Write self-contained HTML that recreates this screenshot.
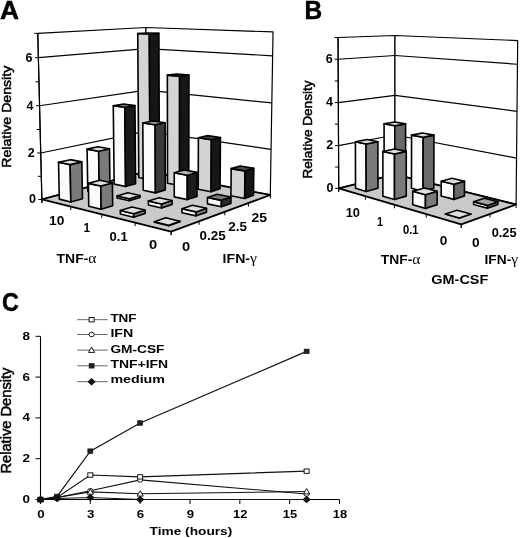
<!DOCTYPE html>
<html><head><meta charset="utf-8"><style>html,body{margin:0;padding:0;background:#fff;}svg{display:block;filter:grayscale(1);}</style></head>
<body><svg width="520" height="538" viewBox="0 0 520 538"><polygon points="41.88,199.44 146.72,171.45 145.91,27.52 37.77,33.36" fill="#fff" stroke="#000" stroke-width="1.20" stroke-linejoin="round" />
<polygon points="146.72,171.45 270.29,194.98 273.02,31.92 145.91,27.52" fill="#fff" stroke="#000" stroke-width="1.20" stroke-linejoin="round" />
<line x1="40.73" y1="152.99" x2="146.49" y2="131.08" stroke="#000" stroke-width="1.20"/>
<line x1="146.49" y1="131.08" x2="271.05" y2="149.35" stroke="#000" stroke-width="1.20"/>
<line x1="39.56" y1="105.75" x2="146.26" y2="90.11" stroke="#000" stroke-width="1.20"/>
<line x1="146.26" y1="90.11" x2="271.83" y2="102.97" stroke="#000" stroke-width="1.20"/>
<line x1="38.38" y1="57.70" x2="146.03" y2="48.54" stroke="#000" stroke-width="1.20"/>
<line x1="146.03" y1="48.54" x2="272.62" y2="55.80" stroke="#000" stroke-width="1.20"/>
<polygon points="41.88,199.44 171.10,231.60 270.29,194.98 146.72,171.45" fill="#cacaca" stroke="#000" stroke-width="1.80" stroke-linejoin="round" />
<polygon points="138.76,177.44 150.06,179.69 149.32,34.01 137.73,33.53" fill="#d4d4d4" stroke="#000" stroke-width="1.60" stroke-linejoin="round" />
<polygon points="150.06,179.69 159.38,177.07 158.89,33.40 149.32,34.01" fill="#161616" stroke="#000" stroke-width="1.60" stroke-linejoin="round" />
<polygon points="137.73,33.53 149.32,34.01 158.89,33.40 147.35,32.93" fill="#484848" stroke="#000" stroke-width="1.60" stroke-linejoin="round" />
<polygon points="114.18,184.14 125.58,186.56 124.82,107.20 113.27,105.77" fill="#fbfbfb" stroke="#000" stroke-width="1.60" stroke-linejoin="round" />
<polygon points="125.58,186.56 135.58,183.75 134.98,105.51 124.82,107.20" fill="#1a1a1a" stroke="#000" stroke-width="1.60" stroke-linejoin="round" />
<polygon points="113.27,105.77 124.82,107.20 134.98,105.51 123.46,104.13" fill="#9a9a9a" stroke="#000" stroke-width="1.60" stroke-linejoin="round" />
<polygon points="167.55,183.16 179.58,185.55 179.61,76.18 167.34,75.15" fill="#d4d4d4" stroke="#000" stroke-width="1.60" stroke-linejoin="round" />
<polygon points="179.58,185.55 188.77,182.77 188.97,74.94 179.61,76.18" fill="#161616" stroke="#000" stroke-width="1.60" stroke-linejoin="round" />
<polygon points="167.34,75.15 179.61,76.18 188.97,74.94 176.77,73.94" fill="#484848" stroke="#000" stroke-width="1.60" stroke-linejoin="round" />
<polygon points="87.77,191.34 99.25,193.94 98.64,151.17 87.08,149.11" fill="#fbfbfb" stroke="#000" stroke-width="1.60" stroke-linejoin="round" />
<polygon points="99.25,193.94 110.02,190.92 109.49,148.77 98.64,151.17" fill="#7a7a7a" stroke="#000" stroke-width="1.60" stroke-linejoin="round" />
<polygon points="87.08,149.11 98.64,151.17 109.49,148.77 97.96,146.77" fill="#dedede" stroke="#000" stroke-width="1.60" stroke-linejoin="round" />
<polygon points="143.24,190.29 155.40,192.86 155.12,124.73 142.81,123.03" fill="#fbfbfb" stroke="#000" stroke-width="1.60" stroke-linejoin="round" />
<polygon points="155.40,192.86 165.29,189.87 165.13,122.72 155.12,124.73" fill="#3a3a3a" stroke="#000" stroke-width="1.60" stroke-linejoin="round" />
<polygon points="142.81,123.03 155.12,124.73 165.13,122.72 152.87,121.07" fill="#a0a0a0" stroke="#000" stroke-width="1.60" stroke-linejoin="round" />
<polygon points="198.21,189.25 211.04,191.80 211.35,139.66 198.40,137.77" fill="#d4d4d4" stroke="#000" stroke-width="1.60" stroke-linejoin="round" />
<polygon points="211.04,191.80 220.06,188.83 220.45,137.45 211.35,139.66" fill="#161616" stroke="#000" stroke-width="1.60" stroke-linejoin="round" />
<polygon points="198.40,137.77 211.35,139.66 220.45,137.45 207.57,135.61" fill="#484848" stroke="#000" stroke-width="1.60" stroke-linejoin="round" />
<polygon points="59.31,199.10 70.85,201.91 70.12,164.60 58.52,162.29" fill="#fbfbfb" stroke="#000" stroke-width="1.60" stroke-linejoin="round" />
<polygon points="70.85,201.91 82.47,198.65 81.83,161.90 70.12,164.60" fill="#7a7a7a" stroke="#000" stroke-width="1.60" stroke-linejoin="round" />
<polygon points="58.52,162.29 70.12,164.60 81.83,161.90 70.25,159.66" fill="#dedede" stroke="#000" stroke-width="1.60" stroke-linejoin="round" />
<polygon points="117.05,197.97 129.33,200.75 129.31,198.66 117.03,195.91" fill="#fbfbfb" stroke="#000" stroke-width="1.60" stroke-linejoin="round" />
<polygon points="129.33,200.75 140.00,197.52 139.98,195.47 129.31,198.66" fill="#7a7a7a" stroke="#000" stroke-width="1.60" stroke-linejoin="round" />
<polygon points="117.03,195.91 129.31,198.66 139.98,195.47 127.75,192.80" fill="#dedede" stroke="#000" stroke-width="1.60" stroke-linejoin="round" />
<polygon points="174.26,196.85 187.26,199.60 187.30,175.25 174.24,172.81" fill="#fbfbfb" stroke="#000" stroke-width="1.60" stroke-linejoin="round" />
<polygon points="187.26,199.60 196.99,196.41 197.07,172.41 187.30,175.25" fill="#1c1c1c" stroke="#000" stroke-width="1.60" stroke-linejoin="round" />
<polygon points="174.24,172.81 187.30,175.25 197.07,172.41 184.08,170.05" fill="#b4b4b4" stroke="#000" stroke-width="1.60" stroke-linejoin="round" />
<polygon points="230.93,195.75 244.64,198.47 244.97,170.97 231.19,168.61" fill="#d4d4d4" stroke="#000" stroke-width="1.60" stroke-linejoin="round" />
<polygon points="244.64,198.47 253.45,195.31 253.82,168.21 244.97,170.97" fill="#161616" stroke="#000" stroke-width="1.60" stroke-linejoin="round" />
<polygon points="231.19,168.61 244.97,170.97 253.82,168.21 240.13,165.92" fill="#484848" stroke="#000" stroke-width="1.60" stroke-linejoin="round" />
<polygon points="88.77,206.27 101.14,209.28 100.82,186.04 88.40,183.35" fill="#fbfbfb" stroke="#000" stroke-width="1.60" stroke-linejoin="round" />
<polygon points="101.14,209.28 112.69,205.79 112.41,182.91 100.82,186.04" fill="#7a7a7a" stroke="#000" stroke-width="1.60" stroke-linejoin="round" />
<polygon points="88.40,183.35 100.82,186.04 112.41,182.91 100.03,180.30" fill="#dedede" stroke="#000" stroke-width="1.60" stroke-linejoin="round" />
<polygon points="148.39,205.06 161.55,208.04 161.54,203.96 148.37,201.04" fill="#fbfbfb" stroke="#000" stroke-width="1.60" stroke-linejoin="round" />
<polygon points="161.55,208.04 172.08,204.59 172.07,200.57 161.54,203.96" fill="#7a7a7a" stroke="#000" stroke-width="1.60" stroke-linejoin="round" />
<polygon points="148.37,201.04 161.54,203.96 172.07,200.57 158.97,197.74" fill="#dedede" stroke="#000" stroke-width="1.60" stroke-linejoin="round" />
<polygon points="207.44,203.87 221.37,206.82 221.42,200.36 207.47,197.50" fill="#fbfbfb" stroke="#000" stroke-width="1.60" stroke-linejoin="round" />
<polygon points="221.37,206.82 230.90,203.40 230.96,197.04 221.42,200.36" fill="#2a2a2a" stroke="#000" stroke-width="1.60" stroke-linejoin="round" />
<polygon points="207.47,197.50 221.42,200.36 230.96,197.04 217.10,194.27" fill="#7a7a7a" stroke="#000" stroke-width="1.60" stroke-linejoin="round" />
<polygon points="120.38,213.96 133.67,217.19 133.65,213.70 120.34,210.51" fill="#fbfbfb" stroke="#000" stroke-width="1.60" stroke-linejoin="round" />
<polygon points="133.67,217.19 145.10,213.44 145.08,210.00 133.65,213.70" fill="#7a7a7a" stroke="#000" stroke-width="1.60" stroke-linejoin="round" />
<polygon points="120.34,210.51 133.65,213.70 145.08,210.00 131.83,206.92" fill="#dedede" stroke="#000" stroke-width="1.60" stroke-linejoin="round" />
<polygon points="182.00,212.67 196.14,215.87 196.16,211.90 182.01,208.75" fill="#fbfbfb" stroke="#000" stroke-width="1.60" stroke-linejoin="round" />
<polygon points="196.14,215.87 206.48,212.16 206.50,208.25 196.16,211.90" fill="#7a7a7a" stroke="#000" stroke-width="1.60" stroke-linejoin="round" />
<polygon points="182.01,208.75 196.16,211.90 206.50,208.25 192.44,205.21" fill="#dedede" stroke="#000" stroke-width="1.60" stroke-linejoin="round" />
<polygon points="154.38,222.23 168.71,225.72 168.71,225.20 154.38,221.72" fill="#fbfbfb" stroke="#000" stroke-width="1.60" stroke-linejoin="round" />
<polygon points="168.71,225.72 179.97,221.68 179.97,221.17 168.71,225.20" fill="#7a7a7a" stroke="#000" stroke-width="1.60" stroke-linejoin="round" />
<polygon points="154.38,221.72 168.71,225.20 179.97,221.17 165.71,217.81" fill="#dedede" stroke="#000" stroke-width="1.60" stroke-linejoin="round" />
<line x1="41.97" y1="202.89" x2="37.77" y2="33.36" stroke="#000" stroke-width="1.10"/>
<line x1="38.38" y1="199.44" x2="41.88" y2="199.44" stroke="#000" stroke-width="1.00"/>
<line x1="37.81" y1="176.31" x2="41.31" y2="176.31" stroke="#000" stroke-width="1.00"/>
<line x1="37.23" y1="152.99" x2="40.73" y2="152.99" stroke="#000" stroke-width="1.00"/>
<line x1="36.65" y1="129.47" x2="40.15" y2="129.47" stroke="#000" stroke-width="1.00"/>
<line x1="36.06" y1="105.75" x2="39.56" y2="105.75" stroke="#000" stroke-width="1.00"/>
<line x1="35.47" y1="81.83" x2="38.97" y2="81.83" stroke="#000" stroke-width="1.00"/>
<line x1="34.88" y1="57.70" x2="38.38" y2="57.70" stroke="#000" stroke-width="1.00"/>
<line x1="34.27" y1="33.36" x2="37.77" y2="33.36" stroke="#000" stroke-width="1.00"/>
<line x1="41.88" y1="199.44" x2="41.88" y2="202.94" stroke="#000" stroke-width="1.00"/>
<line x1="70.77" y1="206.63" x2="70.77" y2="210.13" stroke="#000" stroke-width="1.00"/>
<line x1="101.77" y1="214.35" x2="101.77" y2="217.85" stroke="#000" stroke-width="1.00"/>
<line x1="135.12" y1="222.65" x2="135.12" y2="226.15" stroke="#000" stroke-width="1.00"/>
<line x1="171.10" y1="231.60" x2="171.10" y2="235.10" stroke="#000" stroke-width="1.00"/>
<line x1="171.10" y1="231.60" x2="171.10" y2="235.10" stroke="#000" stroke-width="1.00"/>
<line x1="199.09" y1="221.27" x2="199.09" y2="224.77" stroke="#000" stroke-width="1.00"/>
<line x1="224.78" y1="211.78" x2="224.78" y2="215.28" stroke="#000" stroke-width="1.00"/>
<line x1="248.43" y1="203.05" x2="248.43" y2="206.55" stroke="#000" stroke-width="1.00"/>
<line x1="270.29" y1="194.98" x2="270.29" y2="198.48" stroke="#000" stroke-width="1.00"/>
<polygon points="338.73,188.38 394.98,174.35 394.98,35.49 338.04,37.49" fill="#fff" stroke="#000" stroke-width="1.20" stroke-linejoin="round" />
<polygon points="394.98,174.35 516.09,204.49 517.70,40.58 394.98,35.49" fill="#fff" stroke="#000" stroke-width="1.20" stroke-linejoin="round" />
<line x1="338.53" y1="145.64" x2="394.98" y2="134.99" stroke="#000" stroke-width="1.20"/>
<line x1="394.98" y1="134.99" x2="516.54" y2="158.10" stroke="#000" stroke-width="1.20"/>
<line x1="338.34" y1="102.61" x2="394.98" y2="95.38" stroke="#000" stroke-width="1.20"/>
<line x1="394.98" y1="95.38" x2="517.00" y2="111.36" stroke="#000" stroke-width="1.20"/>
<line x1="338.14" y1="59.27" x2="394.98" y2="55.51" stroke="#000" stroke-width="1.20"/>
<line x1="394.98" y1="55.51" x2="517.47" y2="64.26" stroke="#000" stroke-width="1.20"/>
<polygon points="338.73,188.38 461.22,224.46 516.09,204.49 394.98,174.35" fill="#cacaca" stroke="#000" stroke-width="1.80" stroke-linejoin="round" />
<polygon points="384.13,181.05 394.80,183.85 394.80,125.73 384.08,123.83" fill="#fbfbfb" stroke="#000" stroke-width="1.60" stroke-linejoin="round" />
<polygon points="394.80,183.85 405.57,181.01 405.62,123.84 394.80,125.73" fill="#6a6a6a" stroke="#000" stroke-width="1.60" stroke-linejoin="round" />
<polygon points="384.08,123.83 394.80,125.73 405.62,123.84 394.90,122.01" fill="#dedede" stroke="#000" stroke-width="1.60" stroke-linejoin="round" />
<polygon points="355.55,188.35 366.21,191.40 366.10,144.05 355.40,141.77" fill="#fbfbfb" stroke="#000" stroke-width="1.60" stroke-linejoin="round" />
<polygon points="366.21,191.40 377.94,188.31 377.88,141.76 366.10,144.05" fill="#7a7a7a" stroke="#000" stroke-width="1.60" stroke-linejoin="round" />
<polygon points="355.40,141.77 366.10,144.05 377.88,141.76 367.17,139.56" fill="#dedede" stroke="#000" stroke-width="1.60" stroke-linejoin="round" />
<polygon points="411.48,188.24 423.06,191.29 423.19,137.27 411.55,135.11" fill="#fbfbfb" stroke="#000" stroke-width="1.60" stroke-linejoin="round" />
<polygon points="423.06,191.29 433.79,188.20 433.96,135.11 423.19,137.27" fill="#6a6a6a" stroke="#000" stroke-width="1.60" stroke-linejoin="round" />
<polygon points="411.55,135.11 423.19,137.27 433.96,135.11 422.34,133.02" fill="#dedede" stroke="#000" stroke-width="1.60" stroke-linejoin="round" />
<polygon points="382.90,196.19 394.51,199.52 394.51,153.96 382.85,151.42" fill="#fbfbfb" stroke="#000" stroke-width="1.60" stroke-linejoin="round" />
<polygon points="394.51,199.52 406.24,196.14 406.28,151.40 394.51,153.96" fill="#7a7a7a" stroke="#000" stroke-width="1.60" stroke-linejoin="round" />
<polygon points="382.85,151.42 394.51,153.96 406.28,151.40 394.63,148.94" fill="#dedede" stroke="#000" stroke-width="1.60" stroke-linejoin="round" />
<polygon points="441.20,196.06 453.82,199.38 453.89,184.27 441.25,181.20" fill="#fbfbfb" stroke="#000" stroke-width="1.60" stroke-linejoin="round" />
<polygon points="453.82,199.38 464.46,196.01 464.54,181.16 453.89,184.27" fill="#6a6a6a" stroke="#000" stroke-width="1.60" stroke-linejoin="round" />
<polygon points="441.25,181.20 453.89,184.27 464.54,181.16 451.95,178.21" fill="#dedede" stroke="#000" stroke-width="1.60" stroke-linejoin="round" />
<polygon points="412.73,204.74 425.43,208.38 425.46,194.67 412.75,191.28" fill="#fbfbfb" stroke="#000" stroke-width="1.60" stroke-linejoin="round" />
<polygon points="425.43,208.38 437.11,204.68 437.15,191.23 425.46,194.67" fill="#7a7a7a" stroke="#000" stroke-width="1.60" stroke-linejoin="round" />
<polygon points="412.75,191.28 425.46,194.67 437.15,191.23 424.46,187.96" fill="#dedede" stroke="#000" stroke-width="1.60" stroke-linejoin="round" />
<polygon points="473.61,204.59 487.41,208.22 487.43,205.39 473.63,201.81" fill="#fbfbfb" stroke="#000" stroke-width="1.60" stroke-linejoin="round" />
<polygon points="487.41,208.22 497.90,204.53 497.92,201.76 487.43,205.39" fill="#6a6a6a" stroke="#000" stroke-width="1.60" stroke-linejoin="round" />
<polygon points="473.63,201.81 487.43,205.39 497.92,201.76 484.18,198.31" fill="#a4a4a4" stroke="#000" stroke-width="1.60" stroke-linejoin="round" />
<polygon points="445.39,214.10 459.34,218.10 459.34,218.10 445.39,214.10" fill="#fbfbfb" stroke="#000" stroke-width="1.60" stroke-linejoin="round" />
<polygon points="459.34,218.10 470.90,214.03 470.90,214.03 459.34,218.10" fill="#7a7a7a" stroke="#000" stroke-width="1.60" stroke-linejoin="round" />
<polygon points="445.39,214.10 459.34,218.10 470.90,214.03 457.01,210.19" fill="#dedede" stroke="#000" stroke-width="1.60" stroke-linejoin="round" />
<line x1="338.74" y1="191.57" x2="338.04" y2="37.49" stroke="#000" stroke-width="1.10"/>
<line x1="335.23" y1="188.38" x2="338.73" y2="188.38" stroke="#000" stroke-width="1.00"/>
<line x1="335.13" y1="167.05" x2="338.63" y2="167.05" stroke="#000" stroke-width="1.00"/>
<line x1="335.03" y1="145.64" x2="338.53" y2="145.64" stroke="#000" stroke-width="1.00"/>
<line x1="334.94" y1="124.16" x2="338.44" y2="124.16" stroke="#000" stroke-width="1.00"/>
<line x1="334.84" y1="102.61" x2="338.34" y2="102.61" stroke="#000" stroke-width="1.00"/>
<line x1="334.74" y1="80.98" x2="338.24" y2="80.98" stroke="#000" stroke-width="1.00"/>
<line x1="334.64" y1="59.27" x2="338.14" y2="59.27" stroke="#000" stroke-width="1.00"/>
<line x1="334.54" y1="37.49" x2="338.04" y2="37.49" stroke="#000" stroke-width="1.00"/>
<line x1="338.73" y1="188.38" x2="338.73" y2="191.88" stroke="#000" stroke-width="1.00"/>
<line x1="365.36" y1="196.22" x2="365.36" y2="199.72" stroke="#000" stroke-width="1.00"/>
<line x1="394.41" y1="204.78" x2="394.41" y2="208.28" stroke="#000" stroke-width="1.00"/>
<line x1="426.23" y1="214.15" x2="426.23" y2="217.65" stroke="#000" stroke-width="1.00"/>
<line x1="461.22" y1="224.46" x2="461.22" y2="227.96" stroke="#000" stroke-width="1.00"/>
<line x1="461.22" y1="224.46" x2="461.22" y2="227.96" stroke="#000" stroke-width="1.00"/>
<line x1="490.01" y1="213.98" x2="490.01" y2="217.48" stroke="#000" stroke-width="1.00"/>
<line x1="516.09" y1="204.49" x2="516.09" y2="207.99" stroke="#000" stroke-width="1.00"/>
<text x="0.10" y="19.10" font-family="Liberation Sans" font-size="25.00" font-weight="bold" textLength="19.00" lengthAdjust="spacingAndGlyphs" stroke="#000" stroke-width="0.5">A</text>
<text x="304.60" y="18.60" font-family="Liberation Sans" font-size="25.50" font-weight="bold" textLength="17.70" lengthAdjust="spacingAndGlyphs" stroke="#000" stroke-width="0.5">B</text>
<text x="2.10" y="311.20" font-family="Liberation Sans" font-size="25.50" font-weight="bold" textLength="16.80" lengthAdjust="spacingAndGlyphs" stroke="#000" stroke-width="0.5">C</text>
<text x="35.88" y="203.24" font-family="Liberation Sans" font-size="12.50" font-weight="bold" text-anchor="end" >0</text>
<text x="333.33" y="191.88" font-family="Liberation Sans" font-size="12.50" font-weight="bold" text-anchor="end" >0</text>
<text x="34.73" y="156.79" font-family="Liberation Sans" font-size="12.50" font-weight="bold" text-anchor="end" >2</text>
<text x="333.13" y="149.14" font-family="Liberation Sans" font-size="12.50" font-weight="bold" text-anchor="end" >2</text>
<text x="33.56" y="109.55" font-family="Liberation Sans" font-size="12.50" font-weight="bold" text-anchor="end" >4</text>
<text x="332.94" y="106.11" font-family="Liberation Sans" font-size="12.50" font-weight="bold" text-anchor="end" >4</text>
<text x="32.38" y="61.50" font-family="Liberation Sans" font-size="12.50" font-weight="bold" text-anchor="end" >6</text>
<text x="332.74" y="62.77" font-family="Liberation Sans" font-size="12.50" font-weight="bold" text-anchor="end" >6</text>
<text transform="translate(10.90,116.80) rotate(-90)" font-family="Liberation Sans" font-size="13.5" text-anchor="middle" textLength="102.0" lengthAdjust="spacingAndGlyphs" stroke="#000" stroke-width="0.5">Relative Density</text>
<text transform="translate(312.00,129.50) rotate(-90)" font-family="Liberation Sans" font-size="13.5" text-anchor="middle" textLength="98.0" lengthAdjust="spacingAndGlyphs" stroke="#000" stroke-width="0.5">Relative Density</text>
<text x="49.00" y="225.00" font-family="Liberation Sans" font-size="12.50" font-weight="bold" textLength="15.30" lengthAdjust="spacingAndGlyphs" >10</text>
<text x="83.60" y="231.70" font-family="Liberation Sans" font-size="12.50" font-weight="bold" textLength="6.60" lengthAdjust="spacingAndGlyphs" >1</text>
<text x="109.60" y="241.30" font-family="Liberation Sans" font-size="12.50" font-weight="bold" textLength="18.10" lengthAdjust="spacingAndGlyphs" >0.1</text>
<text x="148.90" y="249.20" font-family="Liberation Sans" font-size="12.50" font-weight="bold" textLength="8.20" lengthAdjust="spacingAndGlyphs" >0</text>
<text x="182.10" y="250.50" font-family="Liberation Sans" font-size="12.50" font-weight="bold" textLength="8.20" lengthAdjust="spacingAndGlyphs" >0</text>
<text x="199.60" y="239.70" font-family="Liberation Sans" font-size="12.50" font-weight="bold" textLength="26.10" lengthAdjust="spacingAndGlyphs" >0.25</text>
<text x="228.20" y="230.60" font-family="Liberation Sans" font-size="12.50" font-weight="bold" textLength="18.70" lengthAdjust="spacingAndGlyphs" >2.5</text>
<text x="251.40" y="222.20" font-family="Liberation Sans" font-size="12.50" font-weight="bold" textLength="15.60" lengthAdjust="spacingAndGlyphs" >25</text>
<text x="345.70" y="217.10" font-family="Liberation Sans" font-size="12.50" font-weight="bold" textLength="14.30" lengthAdjust="spacingAndGlyphs" >10</text>
<text x="377.10" y="225.80" font-family="Liberation Sans" font-size="12.50" font-weight="bold" textLength="6.10" lengthAdjust="spacingAndGlyphs" >1</text>
<text x="402.90" y="234.20" font-family="Liberation Sans" font-size="12.50" font-weight="bold" textLength="15.60" lengthAdjust="spacingAndGlyphs" >0.1</text>
<text x="439.80" y="244.60" font-family="Liberation Sans" font-size="12.50" font-weight="bold" textLength="7.60" lengthAdjust="spacingAndGlyphs" >0</text>
<text x="472.10" y="247.00" font-family="Liberation Sans" font-size="12.50" font-weight="bold" textLength="7.60" lengthAdjust="spacingAndGlyphs" >0</text>
<text x="491.70" y="236.50" font-family="Liberation Sans" font-size="12.50" font-weight="bold" textLength="24.90" lengthAdjust="spacingAndGlyphs" >0.25</text>
<text x="56.6" y="262.5" font-family="Liberation Sans" font-size="13.5" font-weight="bold" textLength="39.9" lengthAdjust="spacingAndGlyphs">TNF-<tspan font-family="Liberation Serif" font-weight="normal" font-size="15">&#945;</tspan></text>
<text x="222.6" y="262.5" font-family="Liberation Sans" font-size="13.5" font-weight="bold" textLength="34.4" lengthAdjust="spacingAndGlyphs">IFN-<tspan font-family="Liberation Serif" font-weight="normal" font-size="15">&#947;</tspan></text>
<text x="380.8" y="263.5" font-family="Liberation Sans" font-size="13.5" font-weight="bold" textLength="39.5" lengthAdjust="spacingAndGlyphs">TNF-<tspan font-family="Liberation Serif" font-weight="normal" font-size="15">&#945;</tspan></text>
<text x="484.5" y="263.5" font-family="Liberation Sans" font-size="13.5" font-weight="bold" textLength="33.5" lengthAdjust="spacingAndGlyphs">IFN-<tspan font-family="Liberation Serif" font-weight="normal" font-size="15">&#947;</tspan></text>
<text x="431.30" y="283.80" font-family="Liberation Sans" font-size="13.50" font-weight="bold" textLength="57.00" lengthAdjust="spacingAndGlyphs" >GM-CSF</text>
<line x1="40.50" y1="336.30" x2="40.50" y2="499.50" stroke="#000" stroke-width="1.10"/>
<line x1="40.50" y1="499.50" x2="339.50" y2="499.50" stroke="#000" stroke-width="1.10"/>
<line x1="35.50" y1="499.50" x2="40.50" y2="499.50" stroke="#000" stroke-width="1.00"/>
<text x="22.60" y="502.90" font-family="Liberation Sans" font-size="11.00" font-weight="bold" textLength="7.50" lengthAdjust="spacingAndGlyphs" >0</text>
<line x1="35.50" y1="458.70" x2="40.50" y2="458.70" stroke="#000" stroke-width="1.00"/>
<text x="22.60" y="462.10" font-family="Liberation Sans" font-size="11.00" font-weight="bold" textLength="7.50" lengthAdjust="spacingAndGlyphs" >2</text>
<line x1="35.50" y1="417.90" x2="40.50" y2="417.90" stroke="#000" stroke-width="1.00"/>
<text x="22.60" y="421.30" font-family="Liberation Sans" font-size="11.00" font-weight="bold" textLength="7.50" lengthAdjust="spacingAndGlyphs" >4</text>
<line x1="35.50" y1="377.10" x2="40.50" y2="377.10" stroke="#000" stroke-width="1.00"/>
<text x="22.60" y="380.50" font-family="Liberation Sans" font-size="11.00" font-weight="bold" textLength="7.50" lengthAdjust="spacingAndGlyphs" >6</text>
<line x1="35.50" y1="336.30" x2="40.50" y2="336.30" stroke="#000" stroke-width="1.00"/>
<text x="22.60" y="339.70" font-family="Liberation Sans" font-size="11.00" font-weight="bold" textLength="7.50" lengthAdjust="spacingAndGlyphs" >8</text>
<line x1="40.50" y1="499.50" x2="40.50" y2="504.00" stroke="#000" stroke-width="1.00"/>
<text x="37.20" y="518.30" font-family="Liberation Sans" font-size="11.00" font-weight="bold" textLength="7.40" lengthAdjust="spacingAndGlyphs" >0</text>
<line x1="90.33" y1="499.50" x2="90.33" y2="504.00" stroke="#000" stroke-width="1.00"/>
<text x="87.03" y="518.30" font-family="Liberation Sans" font-size="11.00" font-weight="bold" textLength="7.40" lengthAdjust="spacingAndGlyphs" >3</text>
<line x1="140.17" y1="499.50" x2="140.17" y2="504.00" stroke="#000" stroke-width="1.00"/>
<text x="136.87" y="518.30" font-family="Liberation Sans" font-size="11.00" font-weight="bold" textLength="7.40" lengthAdjust="spacingAndGlyphs" >6</text>
<line x1="190.00" y1="499.50" x2="190.00" y2="504.00" stroke="#000" stroke-width="1.00"/>
<text x="186.70" y="518.30" font-family="Liberation Sans" font-size="11.00" font-weight="bold" textLength="7.40" lengthAdjust="spacingAndGlyphs" >9</text>
<line x1="239.83" y1="499.50" x2="239.83" y2="504.00" stroke="#000" stroke-width="1.00"/>
<text x="233.03" y="518.30" font-family="Liberation Sans" font-size="11.00" font-weight="bold" textLength="14.40" lengthAdjust="spacingAndGlyphs" >12</text>
<line x1="289.67" y1="499.50" x2="289.67" y2="504.00" stroke="#000" stroke-width="1.00"/>
<text x="282.87" y="518.30" font-family="Liberation Sans" font-size="11.00" font-weight="bold" textLength="14.40" lengthAdjust="spacingAndGlyphs" >15</text>
<line x1="339.50" y1="499.50" x2="339.50" y2="504.00" stroke="#000" stroke-width="1.00"/>
<text x="332.70" y="518.30" font-family="Liberation Sans" font-size="11.00" font-weight="bold" textLength="14.40" lengthAdjust="spacingAndGlyphs" >18</text>
<text transform="translate(11.2,420.6) rotate(-90)" font-family="Liberation Sans" font-size="14" text-anchor="middle" textLength="106" lengthAdjust="spacingAndGlyphs" stroke="#000" stroke-width="0.5">Relative Density</text>
<text x="149.60" y="534.80" font-family="Liberation Sans" font-size="10.50" font-weight="bold" textLength="82.70" lengthAdjust="spacingAndGlyphs" >Time (hours)</text>
<polyline points="40.50,499.50 57.11,497.46 90.33,490.73 140.17,479.92 306.61,493.99" fill="none" stroke="#111" stroke-width="1.15"/>
<polyline points="40.50,499.50 57.11,497.46 90.33,491.95 140.17,493.79 306.61,491.54" fill="none" stroke="#111" stroke-width="1.15"/>
<polyline points="40.50,499.50 57.11,497.46 90.33,475.02 140.17,476.86 306.61,471.14" fill="none" stroke="#111" stroke-width="1.15"/>
<polyline points="40.50,499.50 57.11,496.44 90.33,451.15 140.17,423.00 306.61,351.40" fill="none" stroke="#111" stroke-width="1.15"/>
<polyline points="40.50,499.50 57.11,498.48 90.33,497.46 140.17,499.50 306.61,499.50" fill="none" stroke="#111" stroke-width="1.15"/>
<ellipse cx="40.50" cy="499.50" rx="2.6" ry="2.3" fill="#fff" stroke="#000" stroke-width="0.9"/>
<ellipse cx="57.11" cy="497.46" rx="2.6" ry="2.3" fill="#fff" stroke="#000" stroke-width="0.9"/>
<ellipse cx="90.33" cy="490.73" rx="2.6" ry="2.3" fill="#fff" stroke="#000" stroke-width="0.9"/>
<ellipse cx="140.17" cy="479.92" rx="2.6" ry="2.3" fill="#fff" stroke="#000" stroke-width="0.9"/>
<ellipse cx="306.61" cy="493.99" rx="2.6" ry="2.3" fill="#fff" stroke="#000" stroke-width="0.9"/>
<polygon points="40.50,496.50 37.40,501.80 43.60,501.80" fill="#fff" stroke="#000" stroke-width="0.9"/>
<polygon points="57.11,494.46 54.01,499.76 60.21,499.76" fill="#fff" stroke="#000" stroke-width="0.9"/>
<polygon points="90.33,488.95 87.23,494.25 93.43,494.25" fill="#fff" stroke="#000" stroke-width="0.9"/>
<polygon points="140.17,490.79 137.07,496.09 143.27,496.09" fill="#fff" stroke="#000" stroke-width="0.9"/>
<polygon points="306.61,488.54 303.51,493.84 309.71,493.84" fill="#fff" stroke="#000" stroke-width="0.9"/>
<rect x="38.00" y="497.30" width="5" height="4.4" fill="#fff" stroke="#000" stroke-width="0.9"/>
<rect x="54.61" y="495.26" width="5" height="4.4" fill="#fff" stroke="#000" stroke-width="0.9"/>
<rect x="87.83" y="472.82" width="5" height="4.4" fill="#fff" stroke="#000" stroke-width="0.9"/>
<rect x="137.67" y="474.66" width="5" height="4.4" fill="#fff" stroke="#000" stroke-width="0.9"/>
<rect x="304.11" y="468.94" width="5" height="4.4" fill="#fff" stroke="#000" stroke-width="0.9"/>
<rect x="38.00" y="497.20" width="5" height="4.6" fill="#222" stroke="#111" stroke-width="0.6"/>
<rect x="54.61" y="494.14" width="5" height="4.6" fill="#222" stroke="#111" stroke-width="0.6"/>
<rect x="87.83" y="448.85" width="5" height="4.6" fill="#222" stroke="#111" stroke-width="0.6"/>
<rect x="137.67" y="420.70" width="5" height="4.6" fill="#222" stroke="#111" stroke-width="0.6"/>
<rect x="304.11" y="349.10" width="5" height="4.6" fill="#222" stroke="#111" stroke-width="0.6"/>
<polygon points="40.50,495.70 44.70,499.50 40.50,503.30 36.30,499.50" fill="#111"/>
<polygon points="57.11,494.68 61.31,498.48 57.11,502.28 52.91,498.48" fill="#111"/>
<polygon points="90.33,493.66 94.53,497.46 90.33,501.26 86.13,497.46" fill="#111"/>
<polygon points="140.17,495.70 144.37,499.50 140.17,503.30 135.97,499.50" fill="#111"/>
<polygon points="306.61,495.70 310.81,499.50 306.61,503.30 302.41,499.50" fill="#111"/>
<line x1="77.20" y1="319.70" x2="107.70" y2="319.70" stroke="#555" stroke-width="0.90"/>
<rect x="89.10" y="317.50" width="5" height="4.4" fill="#fff" stroke="#000" stroke-width="0.9"/>
<text x="110.40" y="321.50" font-family="Liberation Sans" font-size="10.30" font-weight="bold" textLength="26.20" lengthAdjust="spacingAndGlyphs" >TNF</text>
<line x1="77.20" y1="334.50" x2="107.70" y2="334.50" stroke="#555" stroke-width="0.90"/>
<ellipse cx="91.60" cy="334.50" rx="2.6" ry="2.3" fill="#fff" stroke="#000" stroke-width="0.9"/>
<text x="110.40" y="336.90" font-family="Liberation Sans" font-size="10.30" font-weight="bold" textLength="22.80" lengthAdjust="spacingAndGlyphs" >IFN</text>
<line x1="77.20" y1="350.10" x2="107.70" y2="350.10" stroke="#555" stroke-width="0.90"/>
<polygon points="91.60,347.10 88.50,352.40 94.70,352.40" fill="#fff" stroke="#000" stroke-width="0.9"/>
<text x="110.40" y="352.50" font-family="Liberation Sans" font-size="10.30" font-weight="bold" textLength="54.00" lengthAdjust="spacingAndGlyphs" >GM-CSF</text>
<line x1="77.20" y1="365.80" x2="107.70" y2="365.80" stroke="#555" stroke-width="0.90"/>
<rect x="89.10" y="363.50" width="5" height="4.6" fill="#222" stroke="#111" stroke-width="0.6"/>
<text x="110.40" y="368.10" font-family="Liberation Sans" font-size="10.30" font-weight="bold" textLength="57.80" lengthAdjust="spacingAndGlyphs" >TNF+IFN</text>
<line x1="77.20" y1="381.70" x2="107.70" y2="381.70" stroke="#555" stroke-width="0.90"/>
<polygon points="91.60,377.90 95.80,381.70 91.60,385.50 87.40,381.70" fill="#111"/>
<text x="110.40" y="383.30" font-family="Liberation Sans" font-size="10.30" font-weight="bold" textLength="54.60" lengthAdjust="spacingAndGlyphs" >medium</text></svg></body></html>
